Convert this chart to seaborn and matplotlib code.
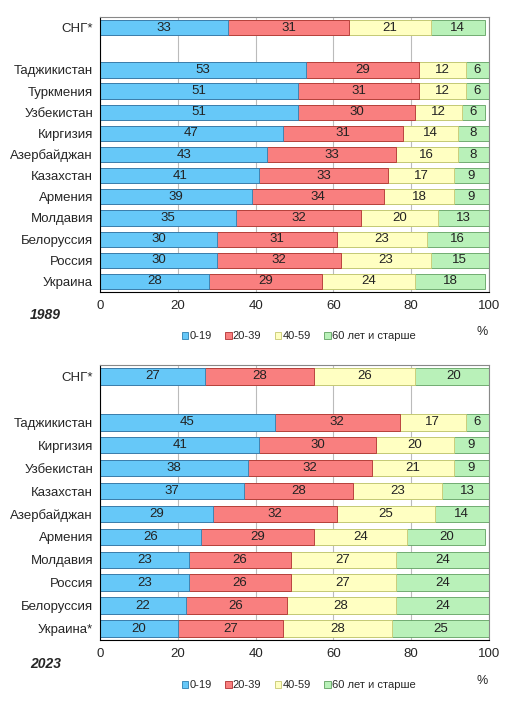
import numpy as np
import pandas as pd
import matplotlib
matplotlib.use("Agg")
import matplotlib.pyplot as plt
import seaborn as sns
from matplotlib.patches import Patch

sns.set_theme(style="white")
plt.rcParams['font.family'] = ['Liberation Sans', 'DejaVu Sans']

groups = ['0-19', '20-39', '40-59', '60 лет и старше']
colors = ['#66C8F8', '#F97F7F', '#FFFFC2', '#B9F1B9']
edges = ['#2E7FB0', '#B03030', '#C8C870', '#60A060']

countries_1989 = ['СНГ*', '', 'Таджикистан', 'Туркмения', 'Узбекистан', 'Киргизия',
                  'Азербайджан', 'Казахстан', 'Армения', 'Молдавия', 'Белоруссия',
                  'Россия', 'Украина']
age0_1989 = [33, None, 53, 51, 51, 47, 43, 41, 39, 35, 30, 30, 28]
age1_1989 = [31, None, 29, 31, 30, 31, 33, 33, 34, 32, 31, 32, 29]
age2_1989 = [21, None, 12, 12, 12, 14, 16, 17, 18, 20, 23, 23, 24]
age3_1989 = [14, None, 6, 6, 6, 8, 8, 9, 9, 13, 16, 15, 18]

countries_2023 = ['СНГ*', '', 'Таджикистан', 'Киргизия', 'Узбекистан', 'Казахстан',
                  'Азербайджан', 'Армения', 'Молдавия', 'Россия', 'Белоруссия',
                  'Украина*']
age0_2023 = [27, None, 45, 41, 38, 37, 29, 26, 23, 23, 22, 20]
age1_2023 = [28, None, 32, 30, 32, 28, 32, 29, 26, 26, 26, 27]
age2_2023 = [26, None, 17, 20, 21, 23, 25, 24, 27, 27, 28, 28]
age3_2023 = [20, None, 6, 9, 9, 13, 14, 20, 24, 24, 24, 25]


def draw(ax, names, cols, year, fig, ytxt):
    df = pd.DataFrame({'name': names})
    for g, c in zip(groups, cols):
        df[g] = pd.to_numeric(pd.Series(c), errors='coerce')
    df = df[df['name'] != '']
    order = [n if n else ' ' for n in names]
    cum = df[groups].cumsum(axis=1)
    for i in range(3, -1, -1):
        sns.barplot(data=cum.assign(name=df['name']), y='name', x=groups[i], order=order,
                    orient='h', color=colors[i], saturation=1, width=0.72,
                    edgecolor=edges[i], linewidth=0.6, ax=ax)
    yl = {n: k for k, n in enumerate(order)}
    for _, row in df.iterrows():
        left = 0
        for g in groups:
            v = row[g]
            ax.text(left + v / 2, yl[row['name']], f"{int(v)}", ha='center', va='center',
                    fontsize=9.5, color='#222222')
            left += v
    ax.set_xlim(0, 100)
    ax.set_xticks(range(0, 101, 20))
    ax.xaxis.grid(True, color='#BBBBBB', linewidth=0.8)
    ax.set_axisbelow(True)
    ax.set_xlabel('')
    ax.set_ylabel('')
    ax.tick_params(axis='both', labelsize=9.5, length=0)
    ax.tick_params(axis='x', pad=6)
    ax.tick_params(axis='y', pad=5)
    for s in ax.spines.values():
        s.set_color('#888888')
        s.set_linewidth(0.8)
    ax.spines['left'].set_color('black')
    ax.spines['bottom'].set_color('black')
    fig.text(30 / 515, 1 - ytxt / 703, year, fontsize=10, fontweight='bold',
             fontstyle='italic', ha='left', va='center')
    fig.text(482 / 515, 1 - (ytxt + 17) / 703, '%', fontsize=9, ha='center', va='center')
    handles = [Patch(facecolor=c, edgecolor=e, linewidth=0.6) for c, e in zip(colors, edges)]
    fig.legend(handles, groups, loc='center', bbox_to_anchor=(0.58, 1 - (ytxt + 21) / 703),
               ncol=4, frameon=False, fontsize=8, handlelength=0.6, handleheight=0.6,
               handletextpad=0.1, columnspacing=1.2)


fig = plt.figure(figsize=(5.15, 7.03), dpi=100)
ax1 = fig.add_axes([100 / 515, 1 - 292 / 703, 389 / 515, 275 / 703])
ax2 = fig.add_axes([100 / 515, 1 - 640 / 703, 389 / 515, 275 / 703])
draw(ax1, countries_1989, [age0_1989, age1_1989, age2_1989, age3_1989], '1989', fig, 315)
draw(ax2, countries_2023, [age0_2023, age1_2023, age2_2023, age3_2023], '2023', fig, 664)
fig.savefig('out.png', dpi=100)
